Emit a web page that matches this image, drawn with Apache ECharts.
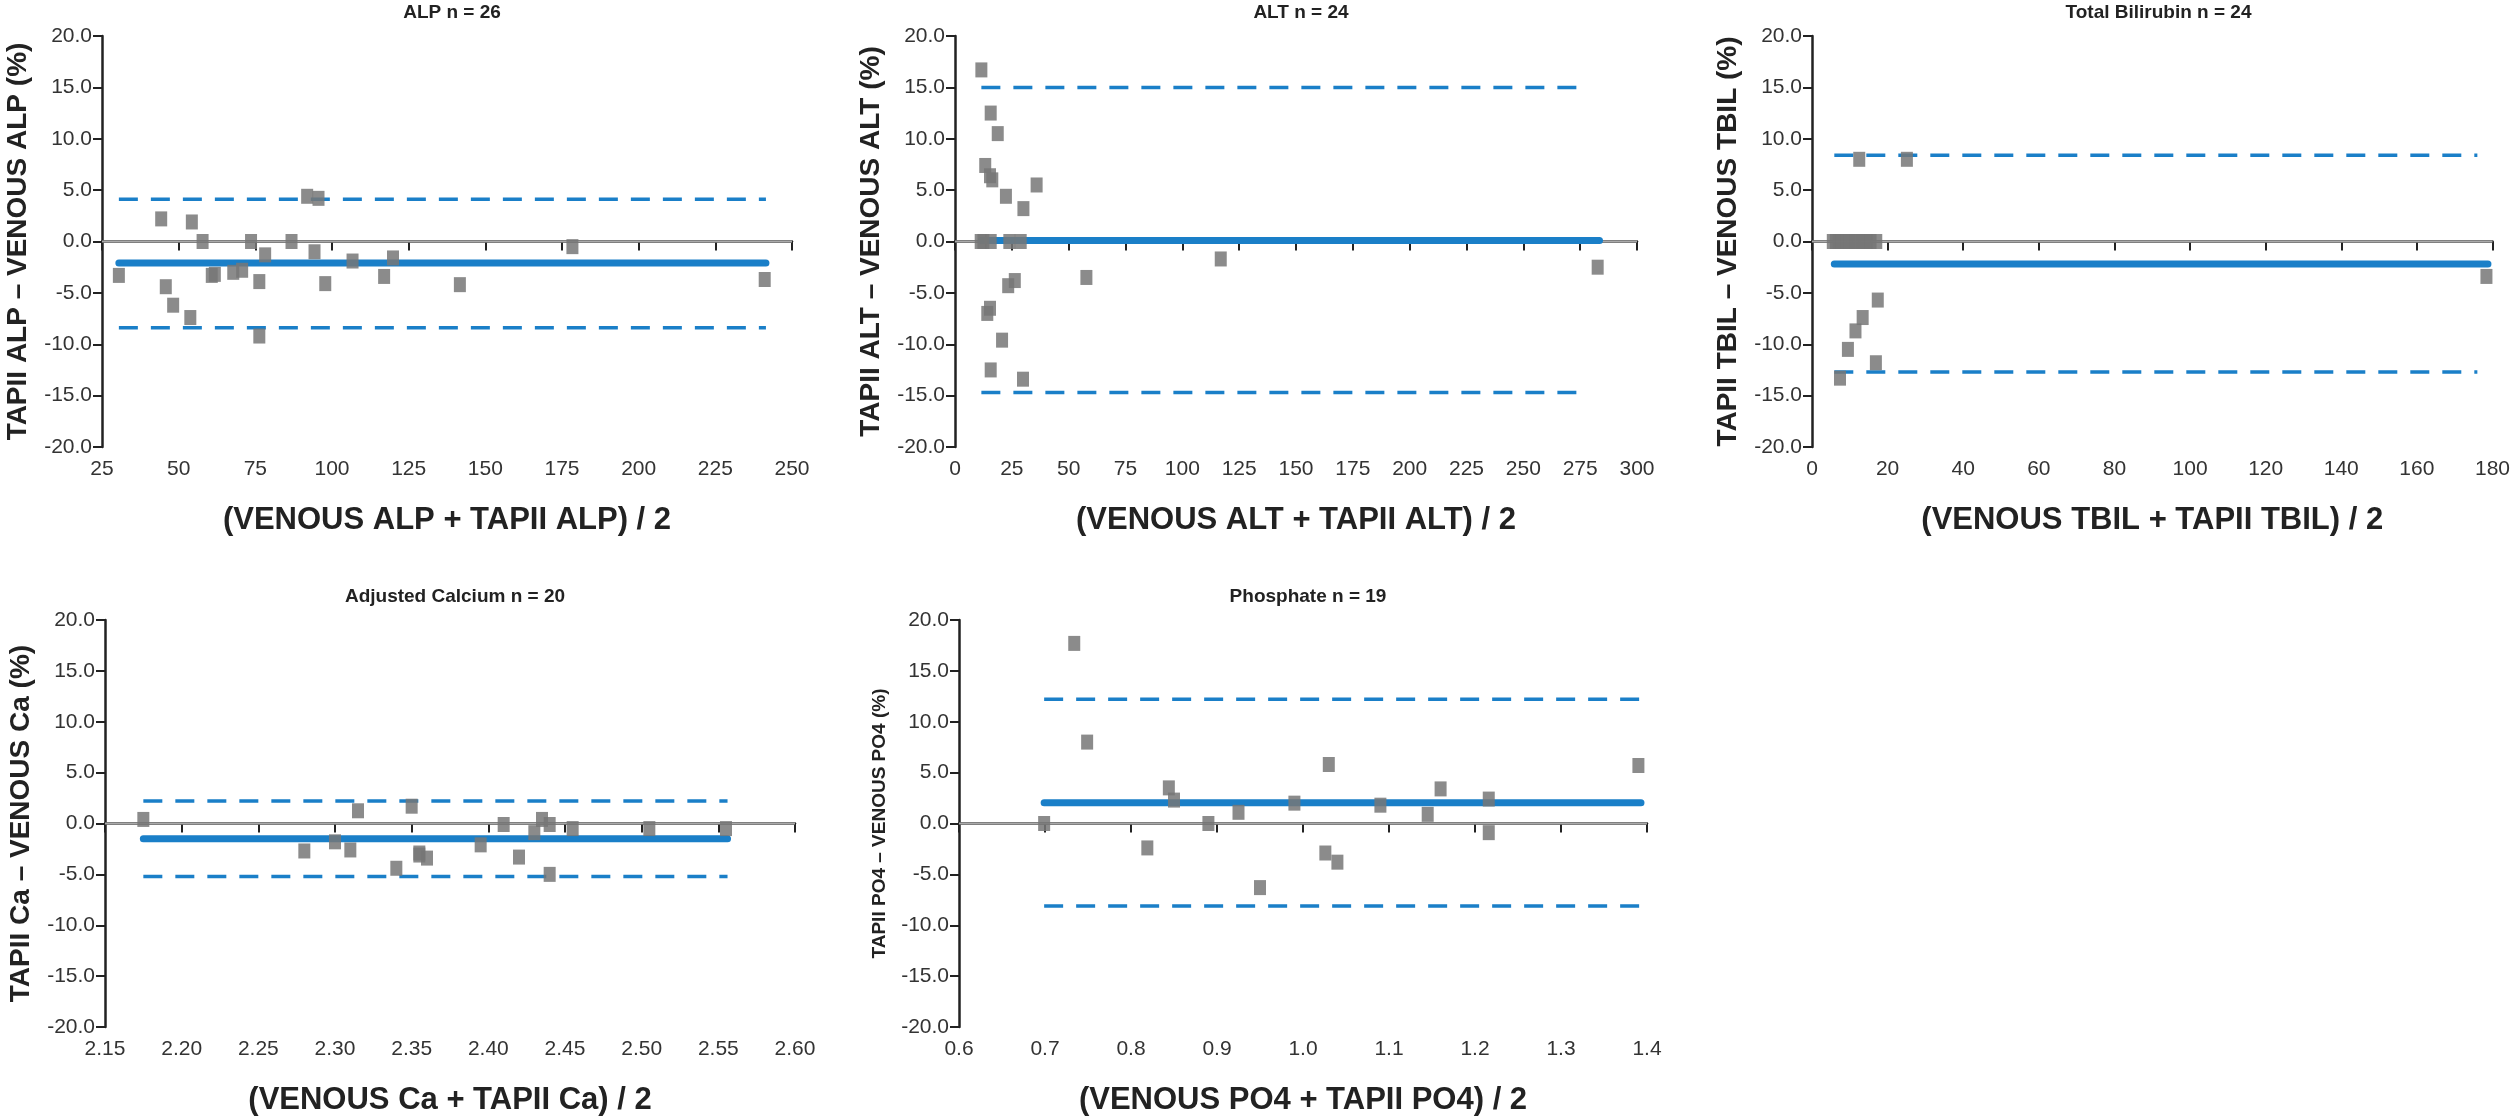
<!DOCTYPE html>
<html>
<head>
<meta charset="utf-8">
<script src="https://cdn.jsdelivr.net/npm/echarts@6/dist/echarts.min.js"></script>
<style>
  html, body { margin: 0; padding: 0; background: #fff; }
  #chart { width: 2513px; height: 1119px; }
</style>
</head>
<body>
<div id="chart"></div>
<script>
// ALP
const alpX = [30.5, 44.3, 45.8, 48.2, 53.8, 54.3, 57.8, 60.8, 61.8, 67.8, 70.7, 73.6, 76.3, 76.3, 78.2, 86.8, 91.9, 94.3, 95.6, 97.8, 106.7, 117, 119.9, 141.7, 178.4, 241.1];
const alpY = [-3.3, 2.2, -4.4, -6.2, -7.4, 1.9, 0, -3.3, -3.2, -3.0, -2.8, 0, -3.9, -9.2, -1.3, 0, 4.4, -1.0, 4.2, -4.1, -1.9, -3.4, -1.6, -4.2, -0.5, -3.7];
const alpStats = [-2.1, 4.1, -8.4]; // mean, upper, lower
const alpSpan = [30.5, 241.5];

// ALT
const altX = [11.6, 15.7, 18.8, 13.3, 15.4, 16.4, 22.4, 35.9, 30.1, 11.3, 12.5, 15.7, 23.9, 28.9, 23.4, 26.3, 57.8, 116.9, 282.7, 15.4, 14.2, 20.7, 15.7, 29.9];
const altY = [16.7, 12.5, 10.5, 7.4, 6.4, 6.0, 4.4, 5.5, 3.2, 0, 0, 0, 0, 0, -4.3, -3.8, -3.5, -1.7, -2.5, -6.5, -7.0, -9.6, -12.5, -13.4];
const altStats = [0.1, 15.0, -14.7];
const altSpan = [11.6, 283.5, 276];

// Total bilirubin
const tbilX = [12.5, 25.1, 5.5, 6.3, 7.0, 7.8, 8.5, 9.2, 10.0, 10.7, 11.5, 12.2, 13.0, 13.8, 14.5, 15.5, 17.0, 178.4, 17.4, 13.4, 11.5, 9.5, 16.9, 7.4];
const tbilY = [8.0, 8.0, 0, 0, 0, 0, 0, 0, 0, 0, 0, 0, 0, 0, 0, 0, 0, -3.4, -5.7, -7.4, -8.7, -10.5, -11.8, -13.3];
const tbilStats = [-2.2, 8.4, -12.7];
const tbilSpan = [5.9, 178.8, 176];

// Adjusted calcium
const caX = [2.175, 2.280, 2.300, 2.310, 2.315, 2.340, 2.350, 2.355, 2.355, 2.360, 2.395, 2.410, 2.420, 2.430, 2.435, 2.440, 2.440, 2.455, 2.505, 2.555];
const caY = [0.4, -2.7, -1.8, -2.6, 1.25, -4.4, 1.7, -3.1, -2.9, -3.4, -2.1, -0.1, -3.3, -0.9, 0.4, -0.1, -5.0, -0.5, -0.5, -0.5];
const caStats = [-1.5, 2.2, -5.2];
const caSpan = [2.175, 2.556];

// Phosphate
const po4X = [0.699, 0.734, 0.749, 0.819, 0.844, 0.850, 0.890, 0.925, 0.950, 0.990, 1.026, 1.030, 1.040, 1.090, 1.145, 1.160, 1.216, 1.216, 1.390];
const po4Y = [0, 17.7, 8.0, -2.4, 3.5, 2.3, 0, 1.1, -6.3, 2.0, -2.9, 5.8, -3.8, 1.8, 0.9, 3.4, 2.4, -0.9, 5.7];
const po4Stats = [2.05, 12.2, -8.1];
const po4Span = [0.699, 1.393];

const chart = echarts.init(document.getElementById('chart'));
const narrow = '"Liberation Sans Narrow", "Liberation Sans", sans-serif';
const blue = '#1a7fc8';

const panels = [
  { title: 'ALP n = 26', x: alpX, y: alpY, stats: alpStats, span: alpSpan,
    grid: { left: 102, top: 36, width: 690, height: 411 },
    xMin: 25, xMax: 250, xInt: 25, dec: 0,
    xName: '(VENOUS ALP + TAPII ALP) / 2', yName: 'TAPII ALP \u2013 VENOUS ALP (%)', yNameSize: 28 },
  { title: 'ALT n = 24', x: altX, y: altY, stats: altStats, span: altSpan,
    grid: { left: 955, top: 36, width: 682, height: 411 },
    xMin: 0, xMax: 300, xInt: 25, dec: 0,
    xName: '(VENOUS ALT + TAPII ALT) / 2', yName: 'TAPII ALT \u2013 VENOUS ALT (%)', yNameSize: 28 },
  { title: 'Total Bilirubin n = 24', x: tbilX, y: tbilY, stats: tbilStats, span: tbilSpan,
    grid: { left: 1812, top: 36, width: 683, height: 411 },
    xMin: 0, xMax: 180, xInt: 20, dec: 0,
    xName: '(VENOUS TBIL + TAPII TBIL) / 2', yName: 'TAPII TBIL \u2013 VENOUS TBIL (%)', yNameSize: 28 },
  { title: 'Adjusted Calcium n = 20', x: caX, y: caY, stats: caStats, span: caSpan,
    grid: { left: 105, top: 620, width: 690, height: 407 },
    xMin: 2.15, xMax: 2.60, xInt: 0.05, dec: 2,
    xName: '(VENOUS Ca + TAPII Ca) / 2', yName: 'TAPII Ca \u2013 VENOUS Ca (%)', yNameSize: 28 },
  { title: 'Phosphate n = 19', x: po4X, y: po4Y, stats: po4Stats, span: po4Span,
    grid: { left: 959, top: 620, width: 688, height: 407 },
    xMin: 0.6, xMax: 1.4, xInt: 0.1, dec: 1,
    xName: '(VENOUS PO4 + TAPII PO4) / 2', yName: 'TAPII PO4 \u2013 VENOUS PO4 (%)', yNameSize: 19 }
];

const grid = [], xAxis = [], yAxis = [], series = [], title = [];

panels.forEach((p, i) => {
  grid.push(p.grid);
  title.push({
    text: p.title,
    left: p.grid.left + p.grid.width / 2,
    top: p.grid.top - 38,
    textAlign: 'center',
    textStyle: { fontFamily: narrow, fontSize: 19, fontWeight: 'bold', color: '#222' }
  });
  const axisLine = { lineStyle: { color: '#222', width: 2.5 } };
  xAxis.push({
    type: 'value', gridIndex: i, min: p.xMin, max: p.xMax, interval: p.xInt,
    name: p.xName, nameLocation: 'middle', nameGap: 58,
    nameTextStyle: { fontFamily: narrow, fontSize: 31, fontWeight: 'bold', color: '#222' },
    axisLine: axisLine, axisTick: { length: 9, lineStyle: { color: '#222', width: 2 } },
    axisLabel: { fontFamily: narrow, fontSize: 21, color: '#333', margin: 12,
      formatter: v => v.toFixed(p.dec) },
    splitLine: { show: false }
  });
  yAxis.push({
    type: 'value', gridIndex: i, min: -20, max: 20, interval: 5,
    name: p.yName, nameLocation: 'middle', nameGap: 70, nameRotate: 90,
    nameTextStyle: { fontFamily: '"Liberation Sans", Arial, sans-serif', fontSize: p.yNameSize, fontWeight: 'bold', color: '#222' },
    axisLine: axisLine, axisTick: { length: 9, lineStyle: { color: '#222', width: 2 } },
    axisLabel: { fontFamily: narrow, fontSize: 21, color: '#333', margin: 10,
      formatter: v => v.toFixed(1) },
    splitLine: { show: false }
  });
  const dashEnd = p.span[2] !== undefined ? p.span[2] : p.span[1];
  // zero reference line
  series.push({
    type: 'line', xAxisIndex: i, yAxisIndex: i, silent: true, symbol: 'none',
    data: [[p.xMin, 0], [p.xMax, 0]],
    lineStyle: { color: '#aaa', width: 2 }, z: 1
  });
  // mean line
  series.push({
    type: 'line', xAxisIndex: i, yAxisIndex: i, silent: true, symbol: 'none',
    data: [[p.span[0], p.stats[0]], [p.span[1], p.stats[0]]],
    lineStyle: { color: blue, width: 7, cap: 'round' }, z: 3
  });
  // limits of agreement
  [p.stats[1], p.stats[2]].forEach(v => {
    series.push({
      type: 'line', xAxisIndex: i, yAxisIndex: i, silent: true, symbol: 'none',
      data: [[p.span[0], v], [dashEnd, v]],
      lineStyle: { color: blue, width: 3.5, type: [19, 13] }, z: 3
    });
  });
  series.push({
    type: 'scatter', xAxisIndex: i, yAxisIndex: i,
    data: p.x.map((x, k) => [x, p.y[k]]),
    symbol: 'rect', symbolSize: [12, 15],
    itemStyle: { color: '#777', opacity: 0.85 }, z: 4
  });
});

chart.setOption({
  animation: false,
  title: title,
  grid: grid,
  xAxis: xAxis,
  yAxis: yAxis,
  series: series
});
</script>
</body>
</html>
